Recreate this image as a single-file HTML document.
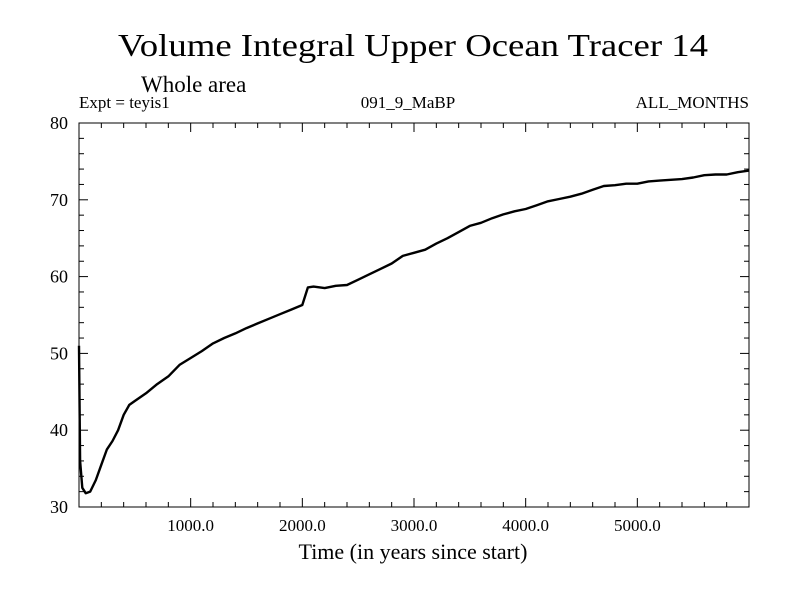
<!DOCTYPE html>
<html><head><meta charset="utf-8"><style>
body{margin:0;background:#fff}
svg{display:block}
text{font-family:"Liberation Serif",serif;fill:#000}
</style></head><body>
<svg id="chart" width="800" height="600" xmlns="http://www.w3.org/2000/svg">
<text x="413" y="56" font-size="32" text-anchor="middle" textLength="590" lengthAdjust="spacingAndGlyphs">Volume Integral Upper Ocean Tracer 14</text>
<text x="141" y="92" font-size="23">Whole area</text>
<text x="79" y="108" font-size="17">Expt = teyis1</text>
<text x="408" y="108" font-size="17" text-anchor="middle">091_9_MaBP</text>
<text x="749" y="108" font-size="17" text-anchor="end">ALL_MONTHS</text>
<text x="413" y="559" font-size="22" text-anchor="middle">Time (in years since start)</text>
<rect x="79" y="123" width="670" height="384" fill="none" stroke="#000" stroke-width="1"/>
<g id="ticks"></g>
<g id="series"></g>
</svg>
<script>
const times=[0,10,30,60,100,150,200,250,300,350,400,450,500,600,700,800,900,1000,1100,1200,1300,1400,1500,1600,1700,1800,1900,2000,2050,2100,2200,2300,2400,2500,2600,2700,2800,2900,3000,3100,3200,3300,3400,3500,3600,3700,3800,3900,4000,4100,4200,4300,4400,4500,4600,4700,4800,4900,5000,5100,5200,5300,5400,5500,5600,5700,5800,5900,6000];
const values=[51,36,32.5,31.8,32,33.5,35.5,37.5,38.6,40,42,43.3,43.8,44.8,46,47,48.5,49.4,50.3,51.3,52,52.6,53.3,53.9,54.5,55.1,55.7,56.3,58.6,58.7,58.5,58.8,58.9,59.6,60.3,61,61.7,62.7,63.1,63.5,64.3,65,65.8,66.6,67,67.6,68.1,68.5,68.8,69.3,69.8,70.1,70.4,70.8,71.3,71.8,71.9,72.1,72.1,72.4,72.5,72.6,72.7,72.9,73.2,73.3,73.3,73.6,73.8];
const xTickLabels=["1000.0","2000.0","3000.0","4000.0","5000.0"];
const xTickValues=[1000,2000,3000,4000,5000];
const yTickValues=[30,40,50,60,70,80];
const NS="http://www.w3.org/2000/svg";
const L=79,R=749,T=123,B=507,xmin=0,xmax=6000,ymin=30,ymax=80;
const xs=v=>L+(v-xmin)/(xmax-xmin)*(R-L);
const ys=v=>B-(v-ymin)/(ymax-ymin)*(B-T);
const tk=document.getElementById('ticks');
function line(x1,y1,x2,y2){const l=document.createElementNS(NS,'line');l.setAttribute('x1',x1);l.setAttribute('y1',y1);l.setAttribute('x2',x2);l.setAttribute('y2',y2);l.setAttribute('stroke','#000');


tk.appendChild(l);}
for(let v=200;v<xmax;v+=200){const maj=v%1000===0;const len=maj?9:5;const x=xs(v);line(x,B,x,B-len);line(x,T,x,T+len);}
for(let v=32;v<ymax;v+=2){const maj=v%10===0;const len=maj?9:5;const y=ys(v);line(L,y,L+len,y);line(R,y,R-len,y);}
xTickLabels.forEach((s,i)=>{const t=document.createElementNS(NS,'text');t.setAttribute('x',xs(xTickValues[i]));t.setAttribute('y',B+24);t.setAttribute('font-size','17');t.setAttribute('text-anchor','middle');t.textContent=s;


tk.appendChild(t);});
yTickValues.forEach(v=>{const t=document.createElementNS(NS,'text');t.setAttribute('x',L-11);t.setAttribute('y',ys(v)+6);t.setAttribute('font-size','18');t.setAttribute('text-anchor','end');t.textContent=String(v);


tk.appendChild(t);});
const p=document.createElementNS(NS,'polyline');
p.setAttribute('points',times.map((t,i)=>xs(t).toFixed(1)+','+ys(values[i]).toFixed(1)).join(' '));
p.setAttribute('fill','none');p.setAttribute('stroke','#000');p.setAttribute('stroke-width','2.4');p.setAttribute('stroke-linejoin','round');


document.getElementById('series').appendChild(p);
</script>
</body></html>
